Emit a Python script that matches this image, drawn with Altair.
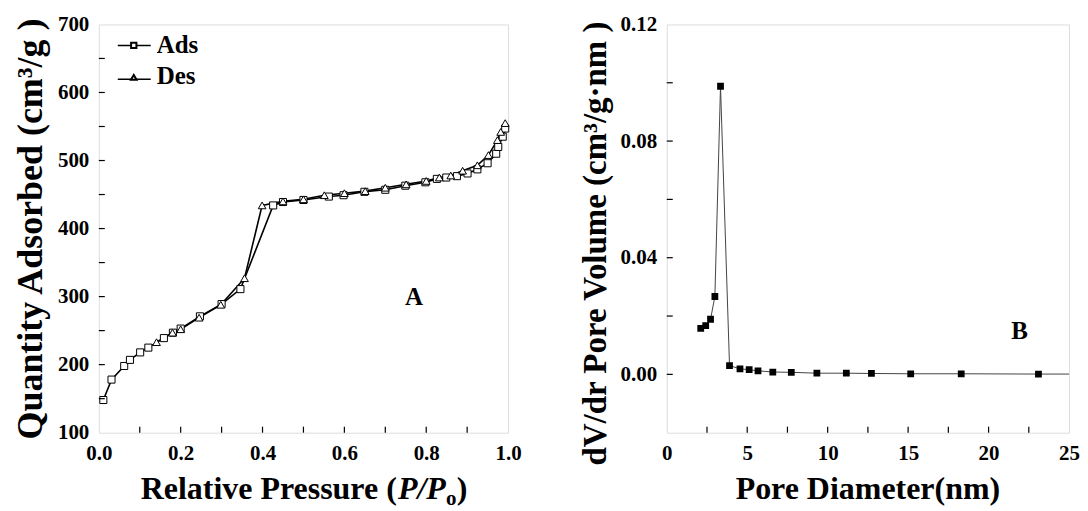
import altair as alt
import pandas as pd

# ---- Panel A: N2 adsorption / desorption isotherm ----
ads_p = [0.011, 0.031, 0.062, 0.076, 0.101, 0.121, 0.159, 0.181, 0.200, 0.247, 0.300,
         0.346, 0.426, 0.450, 0.500, 0.562, 0.598, 0.649, 0.700, 0.749, 0.798, 0.826,
         0.849, 0.875, 0.901, 0.925, 0.950, 0.971, 0.976, 0.987, 0.993]
ads_q = [148, 178, 198, 207, 218, 225, 239, 247, 253, 271, 289,
         311, 434, 439, 442, 447, 449, 454, 457, 463, 468, 473,
         475, 477, 481, 487, 496, 510, 520, 535, 547]

des_p = [0.993, 0.982, 0.974, 0.952, 0.925, 0.889, 0.860, 0.832, 0.800, 0.751, 0.700,
         0.651, 0.600, 0.551, 0.500, 0.450, 0.399, 0.356, 0.298, 0.245, 0.200, 0.180,
         0.141]
des_q = [555, 542, 530, 508, 493, 485, 478, 475, 470, 465, 460,
         455, 452, 449, 443, 440, 434, 327, 288, 269, 252, 247,
         233]

# ---- Panel B: pore size distribution ----
pore_d = [2.11, 2.42, 2.72, 2.99, 3.34, 3.90, 4.55, 5.12, 5.67, 6.59, 7.74,
          9.33, 11.16, 12.72, 15.16, 18.30, 23.10, 28.50]
pore_v = [0.0158, 0.0167, 0.0189, 0.0267, 0.0988, 0.0030, 0.0019, 0.0016, 0.0012,
          0.0008, 0.0007, 0.0004, 0.0004, 0.0003, 0.0002, 0.0002, 0.0001, 0.0001]

# axis ticks / labels
a_x_ticks = [0.1, 0.2, 0.3, 0.4, 0.5, 0.6, 0.7, 0.8, 0.9]
a_x_labels = [0.0, 0.2, 0.4, 0.6, 0.8, 1.0]
a_y_ticks = [150, 200, 250, 300, 350, 400, 450, 500, 550, 600, 650]
a_y_labels = [100, 200, 300, 400, 500, 600, 700]
b_x_ticks = [2.5, 5, 7.5, 10, 12.5, 15, 17.5, 20, 22.5]
b_x_labels = [0, 5, 10, 15, 20, 25]
b_y_ticks = [0.0, 0.02, 0.04, 0.06, 0.08, 0.10]
b_y_labels = [0.0, 0.04, 0.08, 0.12]

FONT = "Liberation Serif"
WA, WB, H = 410, 403, 409
TL = 6          # inward tick length
LBL = 21        # tick label size
TB = H + 66     # title baseline (plot coords)

ads = pd.DataFrame({"p": ads_p, "q": ads_q})
des = pd.DataFrame({"p": des_p, "q": des_q})
pore = pd.DataFrame({"d": pore_d, "v": pore_v})

xa = alt.Scale(domain=[0, 1], nice=False)
ya = alt.Scale(domain=[100, 700], nice=False)
xb = alt.Scale(domain=[0, 25], nice=False)
yb = alt.Scale(domain=[-0.02, 0.12], nice=False)


def axis_x(values, fmt):
    return alt.Axis(values=values, format=fmt, domain=False, ticks=False, grid=False,
                    labelFont=FONT, labelFontWeight="bold", labelFontSize=LBL,
                    labelColor="black", labelPadding=10, labelFlush=False, title=None)


def axis_y(values, fmt, title, size, ty=None):
    kw = dict(values=values, format=fmt, domain=False, ticks=False, grid=False,
              labelFont=FONT, labelFontWeight="bold", labelFontSize=LBL,
              labelColor="black", labelPadding=10, labelFlush=False,
              title=title, titleFont=FONT, titleFontWeight="bold",
              titleFontSize=size, titleColor="black", titlePadding=8)
    if ty is not None:
        kw["titleY"] = ty
    return alt.Axis(**kw)


def txt(text, x, y, size, align="left", style="normal"):
    return alt.Chart(pd.DataFrame({"k": [0]})).mark_text(
        text=text, font=FONT, fontWeight="bold", fontStyle=style, fontSize=size,
        align=align, baseline="alphabetic", color="black").encode(
        x=alt.value(x), y=alt.value(y))


# ---------- Panel A ----------
ads_line = alt.Chart(ads).mark_line(color="black", strokeWidth=1.6).encode(
    x=alt.X("p:Q", scale=xa, axis=axis_x(a_x_labels, ".1f")),
    y=alt.Y("q:Q", scale=ya, axis=axis_y(a_y_labels, "d", "Quantity Adsorbed (cm³/g )", 36)),
)
ads_pts = alt.Chart(ads).mark_point(shape="square", filled=True, fill="white",
                                    stroke="black", strokeWidth=1, size=50, opacity=1).encode(
    x=alt.X("p:Q", scale=xa), y=alt.Y("q:Q", scale=ya))
des_line = alt.Chart(des).mark_line(color="black", strokeWidth=1.6).encode(
    x=alt.X("p:Q", scale=xa), y=alt.Y("q:Q", scale=ya))
des_pts = alt.Chart(des).mark_point(shape="triangle-up", filled=True, fill="white",
                                    stroke="black", strokeWidth=1, size=60, opacity=1).encode(
    x=alt.X("p:Q", scale=xa), y=alt.Y("q:Q", scale=ya))

a_xt = alt.Chart(pd.DataFrame({"t": a_x_ticks})).mark_rule(color="black", strokeWidth=1.2).encode(
    x=alt.X("t:Q", scale=xa), y=alt.value(H), y2=alt.value(H - TL))
a_yt = alt.Chart(pd.DataFrame({"t": a_y_ticks})).mark_rule(color="black", strokeWidth=1.2).encode(
    y=alt.Y("t:Q", scale=ya), x=alt.value(0), x2=alt.value(TL))

a_label = alt.Chart(pd.DataFrame({"x": [0.77], "y": [300], "t": ["A"]})).mark_text(
    font=FONT, fontWeight="bold", fontSize=25, color="black").encode(
    x=alt.X("x:Q", scale=xa), y=alt.Y("y:Q", scale=ya), text="t:N")

# legend (drawn by hand)
leg = pd.DataFrame({"k": [0]})
leg_ads_line = alt.Chart(leg).mark_rule(color="black", strokeWidth=1.5).encode(
    x=alt.value(19), x2=alt.value(52), y=alt.value(21))
leg_ads_pt = alt.Chart(leg).mark_point(shape="square", filled=True, fill="white", stroke="black",
                                       size=28, opacity=1).encode(x=alt.value(35), y=alt.value(21))
leg_des_line = alt.Chart(leg).mark_rule(color="black", strokeWidth=1.5).encode(
    x=alt.value(19), x2=alt.value(52), y=alt.value(55))
leg_des_pt = alt.Chart(leg).mark_point(shape="triangle-up", filled=True, fill="white", stroke="black",
                                       size=32, opacity=1).encode(x=alt.value(35), y=alt.value(53))
leg_ads_txt = txt("Ads", 58, 29, 25)
leg_des_txt = txt("Des", 58, 60, 25)

# x title of panel A with italic P/P and subscript o
TS = 32
x0 = 205 - 163
t1 = txt("Relative Pressure (", x0, TB, TS)
t2 = txt("P/P", x0 + 257.7, TB, TS, style="italic")
t3 = txt("o", x0 + 305.7, TB + 6, 21)
t4 = txt(")", x0 + 316.5, TB, TS)

panel_a = alt.layer(ads_line, des_line, ads_pts, des_pts, a_xt, a_yt, a_label,
                    leg_ads_line, leg_ads_pt, leg_ads_txt, leg_des_line, leg_des_pt, leg_des_txt,
                    t1, t2, t3, t4).properties(width=WA, height=H)

# ---------- Panel B ----------
b_line = alt.Chart(pore).mark_line(color="#444444", strokeWidth=1, clip=True).encode(
    x=alt.X("d:Q", scale=xb, axis=axis_x(b_x_labels, "d")),
    y=alt.Y("v:Q", scale=yb, axis=axis_y(b_y_labels, ".2f", "dV/dr Pore Volume (cm³/g·nm )", 33, 219)),
)
b_pts = alt.Chart(pore).mark_point(shape="square", filled=True, color="black", size=46,
                                   opacity=1, clip=True).encode(
    x=alt.X("d:Q", scale=xb), y=alt.Y("v:Q", scale=yb))
b_xt = alt.Chart(pd.DataFrame({"t": b_x_ticks})).mark_rule(color="black", strokeWidth=1.2).encode(
    x=alt.X("t:Q", scale=xb), y=alt.value(H), y2=alt.value(H - TL))
b_yt = alt.Chart(pd.DataFrame({"t": b_y_ticks})).mark_rule(color="black", strokeWidth=1.2).encode(
    y=alt.Y("t:Q", scale=yb), x=alt.value(0), x2=alt.value(TL))
b_label = alt.Chart(pd.DataFrame({"x": [21.93], "y": [0.0149], "t": ["B"]})).mark_text(
    font=FONT, fontWeight="bold", fontSize=25, color="black").encode(
    x=alt.X("x:Q", scale=xb), y=alt.Y("y:Q", scale=yb), text="t:N")
b_title = txt("Pore Diameter(nm)", WB / 2, TB, 32, align="center")

panel_b = alt.layer(b_line, b_pts, b_xt, b_yt, b_label, b_title).properties(width=WB, height=H)

chart = alt.hconcat(panel_a, panel_b, spacing=56).properties(
    padding={"left": 4, "top": 4, "right": 0, "bottom": 0}
).configure_view(stroke="black", strokeWidth=1.5).configure(background="white")

chart.save("out.html", embed_options={"renderer": "svg", "actions": False})
